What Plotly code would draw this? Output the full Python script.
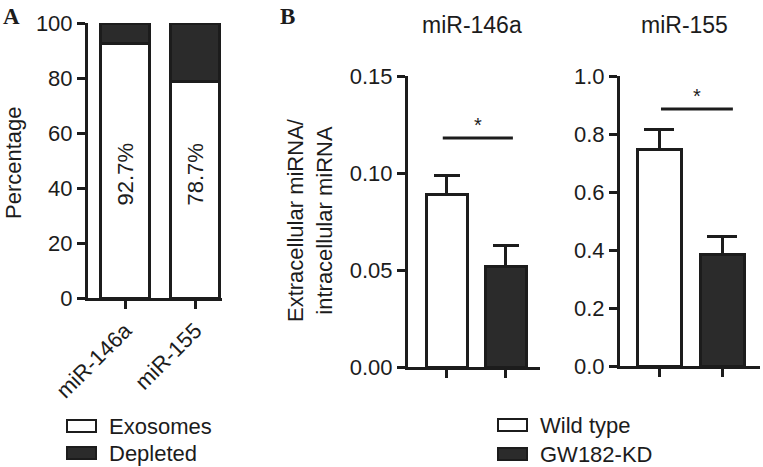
import plotly.graph_objects as go

W, H = 763, 467

# ---------------- data ----------------
categories_a = ["miR-146a", "miR-155"]
exosomes_pct = [92.7, 78.7]
depleted_pct = [7.3, 21.3]

groups_b = ["Wild type", "GW182-KD"]
mir146a_vals = [0.0887, 0.0520]
mir146a_err = [0.0098, 0.0104]
mir155_vals = [0.748, 0.386]
mir155_err = [0.066, 0.062]

legend_a = ["Exosomes", "Depleted"]

# ---------------- styles ----------------
INK = "#1c1c1c"
DARK = "#2b2b2b"
FONT = "Liberation Sans, Arial, Helvetica, sans-serif"
SERIF = "Liberation Serif, DejaVu Serif, serif"
FS = 22


def px(x):
    return x / W


def py(y):
    return 1 - y / H


fig = go.Figure()

# Panel A stacked bars
fig.add_trace(go.Bar(x=[0, 1], y=exosomes_pct, width=0.7, name=legend_a[0],
                     marker=dict(color="white", line=dict(color=INK, width=3)),
                     xaxis="x", yaxis="y", showlegend=False))
fig.add_trace(go.Bar(x=[0, 1], y=depleted_pct, width=0.7, name=legend_a[1],
                     marker=dict(color=DARK, line=dict(color=INK, width=3)),
                     xaxis="x", yaxis="y", showlegend=False))

# Panel B left (miR-146a)
fill_b = ["white", DARK]
fig.add_trace(go.Bar(x=[0, 1], y=mir146a_vals, width=0.7,
                     marker=dict(color=fill_b, line=dict(color=INK, width=3)),
                     error_y=dict(type="data", array=mir146a_err, arrayminus=[0, 0],
                                  symmetric=False, color=INK, thickness=3, width=13),
                     xaxis="x2", yaxis="y2", showlegend=False))
# Panel B right (miR-155)
fig.add_trace(go.Bar(x=[0, 1], y=mir155_vals, width=0.7,
                     marker=dict(color=fill_b, line=dict(color=INK, width=3)),
                     error_y=dict(type="data", array=mir155_err, arrayminus=[0, 0],
                                  symmetric=False, color=INK, thickness=3, width=15),
                     xaxis="x3", yaxis="y3", showlegend=False))

axis_common = dict(showline=True, linewidth=3, linecolor=INK, ticks="outside",
                   ticklen=8, tickwidth=3, tickcolor=INK, showgrid=False,
                   zeroline=False, automargin=False,
                   tickfont=dict(family=FONT, size=FS, color=INK))

fig.update_layout(
    template="none",
    width=W, height=H, margin=dict(l=0, r=0, t=0, b=0, autoexpand=False),
    paper_bgcolor="white", plot_bgcolor="white", barmode="stack",
    font=dict(family=FONT, size=FS, color=INK),
    xaxis=dict(domain=[px(88), px(222)], range=[-0.53, 1.38], tickvals=[0, 1],
               ticktext=categories_a, tickangle=-45, anchor="y", **axis_common),
    yaxis=dict(domain=[py(298), py(23)], range=[0, 100], tickvals=[0, 20, 40, 60, 80, 100],
               anchor="x", **axis_common),
    xaxis2=dict(domain=[px(408), px(540)], range=[-0.66, 1.58], tickvals=[0, 1],
                showticklabels=False, anchor="y2", **axis_common),
    yaxis2=dict(domain=[py(367), py(76)], range=[0, 0.15], tickvals=[0, 0.05, 0.10, 0.15],
                tickformat=".2f", anchor="x2", **axis_common),
    xaxis3=dict(domain=[px(620), px(760)], range=[-0.62, 1.6], tickvals=[0, 1],
                showticklabels=False, anchor="y3", **axis_common),
    yaxis3=dict(domain=[py(366), py(76)], range=[0, 1.0], tickvals=[0, 0.2, 0.4, 0.6, 0.8, 1.0],
                tickformat=".1f", anchor="x3", **axis_common),
)

shapes = []
ann = []


def note(x, y, text, size=FS, family=FONT, angle=0, xanchor="center", yanchor="middle",
         xref="paper", yref="paper"):
    ann.append(dict(xref=xref, yref=yref, x=x, y=y, text=text, textangle=angle,
                    xanchor=xanchor, yanchor=yanchor, showarrow=False,
                    font=dict(family=family, size=size, color=INK)))


# significance brackets
shapes.append(dict(type="line", xref="x2", yref="y2", x0=-0.07, x1=1.12, y0=0.118, y1=0.118,
                   line=dict(color=INK, width=3)))
note(0.52, 0.118, "*", size=20, yanchor="bottom", xref="x2", yref="y2")
shapes.append(dict(type="line", xref="x3", yref="y3", x0=0.03, x1=1.17, y0=0.886, y1=0.886,
                   line=dict(color=INK, width=3)))
note(0.6, 0.886, "*", size=20, yanchor="bottom", xref="x3", yref="y3")

# percentage labels inside bars
for i, v in enumerate(exosomes_pct):
    note(i, 45, f"{v}%", angle=-90, xref="x", yref="y")

# titles & axis titles
note(px(472), py(25), "miR-146a", size=FS + 1)
note(px(684), py(25), "miR-155", size=FS + 1)
note(px(13), py(163), "Percentage", angle=-90)
note(px(310), py(220), "Extracellular miRNA/<br>intracellular miRNA", angle=-90)

# panel letters
note(px(12), py(16), "<b>A</b>", size=23, family=SERIF)
note(px(287), py(16), "<b>B</b>", size=23, family=SERIF)


# legends
def legend_item(x_box, y_c, fill, label):
    shapes.append(dict(type="rect", xref="paper", yref="paper",
                       x0=px(x_box), x1=px(x_box + 29), y0=py(y_c + 6), y1=py(y_c - 6),
                       fillcolor=fill, line=dict(color=INK, width=2)))
    note(px(x_box + 40), py(y_c), label, xanchor="left")


legend_item(67, 426, "white", legend_a[0])
legend_item(67, 453, DARK, legend_a[1])
legend_item(498, 425, "white", groups_b[0])
legend_item(498, 454, DARK, groups_b[1])

fig.update_layout(shapes=shapes, annotations=ann)

fig.write_html("out.html", config={"displayModeBar": False},
               post_script="document.body.style.margin='0';document.body.style.padding='0';")
